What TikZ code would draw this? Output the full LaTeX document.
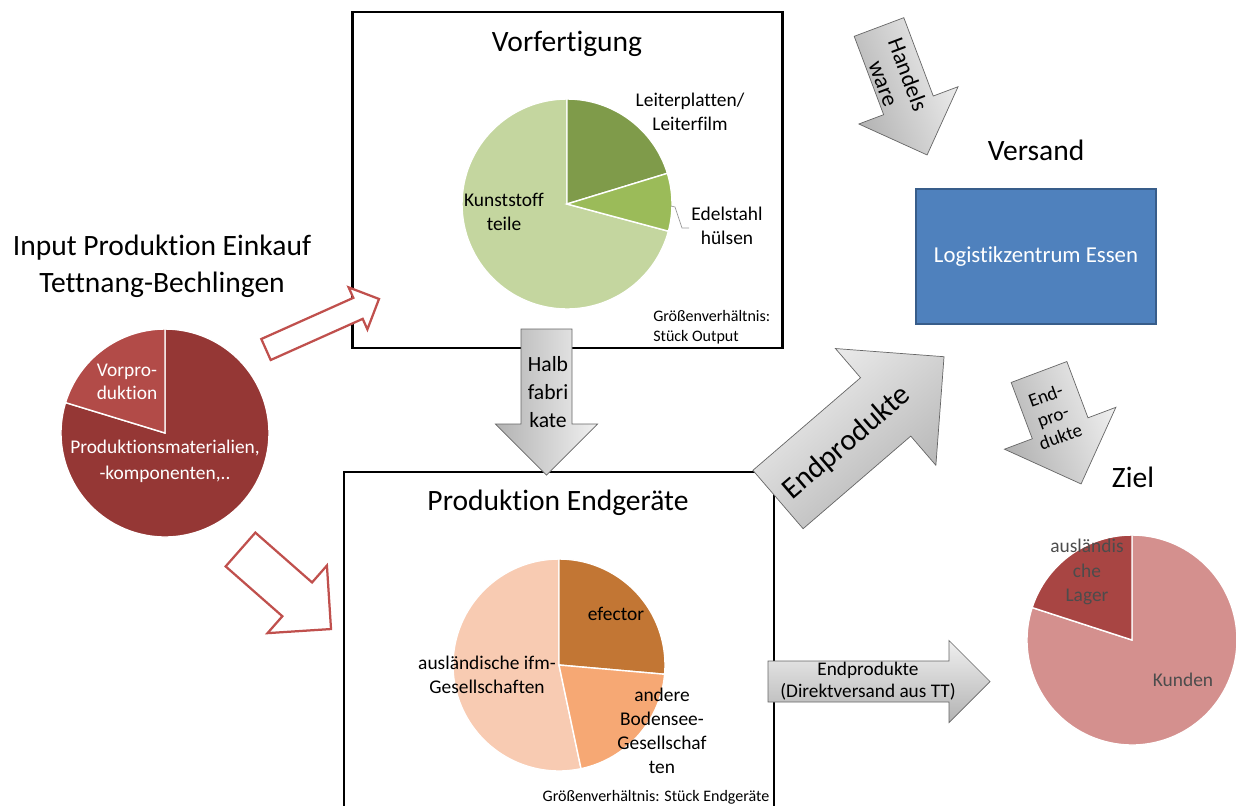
\documentclass[tikz,border=0pt]{standalone}
\usepackage{fontspec}
\setmainfont{Carlito}[Ligatures=NoCommon]
\usetikzlibrary{positioning}
\definecolor{InRed}{HTML}{953735}
\definecolor{InRedLight}{HTML}{B24B48}
\definecolor{ArrowRed}{HTML}{C0504D}
\definecolor{GreenDark}{HTML}{7F9B4A}
\definecolor{GreenMid}{HTML}{9BBB59}
\definecolor{GreenLight}{HTML}{C4D69F}
\definecolor{OrangeDark}{HTML}{C27634}
\definecolor{OrangeMid}{HTML}{F6A874}
\definecolor{OrangeLight}{HTML}{F8CBB2}
\definecolor{ZielRed}{HTML}{A84543}
\definecolor{ZielPink}{HTML}{D4908E}
\definecolor{LogBlue}{HTML}{4F81BD}
\definecolor{LogBlueDark}{HTML}{385D8A}

\begin{document}
\begin{tikzpicture}[x=0.025cm, y=0.025cm, on grid,
  headline/.style={font=\fontsize{21}{26}\selectfont, align=center, inner sep=0pt},
  lbl/.style={font=\fontsize{13.8}{17}\selectfont, align=center, inner sep=0pt},
  note/.style={font=\fontsize{11.4}{14}\selectfont, align=left, inner sep=0pt},
  boxframe/.style={draw, line width=1.8pt, minimum width=10.75cm},
  slice/.style={draw=white, line width=1pt},
  grayarrow/.style={draw=black!60, line width=0.5pt, top color=black!6, bottom color=black!30},
  redarrow/.style={draw=ArrowRed, line width=1.6pt, fill=white},
  pics/blockarrow/.style 2 args={code={
    \path[pic actions] (0,-#2/2) -- ({#1-#2},-#2/2) -- ({#1-#2},-#2) -- (#1,0)
      -- ({#1-#2},#2) -- ({#1-#2},#2/2) -- (0,#2/2) -- cycle;
  }}]

\useasboundingbox (0,0) rectangle (1236,-805);
\clip (0,0) rectangle (1236,-805);

% frames
\node[boxframe, minimum height=8.4cm] (vorf) at (567.5,-180) {};
\node[boxframe, minimum height=8.95cm] (prod) at (559,-651) {};
\node[draw=LogBlueDark, line width=1.2pt, fill=LogBlue, text=white,
  minimum width=6cm, minimum height=3.375cm, font=\fontsize{16.2}{19}\selectfont] (logistik) at (1036,-256.5) {Logistikzentrum Essen};

\node[headline] (vorftitle) at (567,-44) {Vorfertigung};
\node[headline] (prodtitle) at (558,-503) {Produktion Endger\"ate};
\node[headline, above=2.66cm of logistik] (versand) {Versand};
\node[headline] (input) at (162,-266) {Input Produktion Einkauf\\Tettnang-Bechlingen};

% Input pie
\coordinate (inpie) at (165,-433);
\fill[InRed, slice] (inpie) -- ++(163:104) arc (163:450:104) -- cycle;
\fill[InRedLight, slice] (inpie) -- ++(90:104) arc (90:163:104) -- cycle;
\node[lbl, text=white, font=\fontsize{13.8}{16.4}\selectfont] (vorprod) at (127,-382) {Vorpro-\\duktion};
\node[lbl, text=white, font=\fontsize{13.8}{18.5}\selectfont] (prodmat) at (165,-461) {Produktionsmaterialien,\\-komponenten,..};

% Vorfertigung pie
\coordinate (vorpie) at (567,-204);
\fill[GreenLight, slice] (vorpie) -- ++(90:105) arc (90:345:105) -- cycle;
\fill[GreenDark, slice] (vorpie) -- ++(17:105) arc (17:90:105) -- cycle;
\fill[GreenMid, slice] (vorpie) -- ++(-15:105) arc (-15:17:105) -- cycle;
\node[lbl] (leiter) at (690,-112) {Leiterplatten/\\Leiterfilm};
\node[lbl] (edel) at (727,-226) {Edelstahl\\h\"ulsen};
\node[lbl] (kunst) at (504,-212) {Kunststoff\\teile};
\draw[black!40, line width=0.5pt] (671,-206) -- (675,-207) -- (682,-228) -- (689,-228);
\node[note, anchor=west] (vornote) at (653,-327) {Gr\"o\ss enverh\"altnis:\\St\"uck Output};

% Produktion pie
\coordinate (prodpie) at (559,-665);
\fill[OrangeLight, slice] (prodpie) -- ++(90:106) arc (90:282:106) -- cycle;
\fill[OrangeDark, slice] (prodpie) -- ++(-5:106) arc (-5:90:106) -- cycle;
\fill[OrangeMid, slice] (prodpie) -- ++(-78:106) arc (-78:-5:106) -- cycle;
\node[lbl] (efector) at (616,-614) {efector};
\node[lbl] (ausl) at (487,-675) {ausl\"andische ifm-\\Gesellschaften};
\node[lbl, font=\fontsize{13.8}{17.2}\selectfont] (andere) at (662,-731) {andere\\Bodensee-\\Gesellschaf\\ten};
\node[note] (prodnote) at (656,-797) {Gr\"o\ss enverh\"altnis: St\"uck Endger\"ate};

% Ziel pie
\coordinate (zielpie) at (1132,-640);
\fill[ZielPink, slice] (zielpie) -- ++(162:105) arc (162:450:105) -- cycle;
\fill[ZielRed, slice] (zielpie) -- ++(90:105) arc (90:162:105) -- cycle;
\node[headline] (ziel) at (1133,-477) {Ziel};
\node[lbl, text=black!70, font=\fontsize{13.8}{17.2}\selectfont] (lager) at (1087,-572) {ausl\"andis\\che\\Lager};
\node[lbl, text=black!70] (kunden) at (1183,-680) {Kunden};

% red arrows
\coordinate (uptail) at (266,-349.5);
\coordinate (downtail) at (240.5,-549.5);
\pic[redarrow, rotate=24.1] at (uptail) {blockarrow={123.8}{23}};
\pic[redarrow, rotate=-41.3] at (downtail) {blockarrow={120.5}{45}};

% gray arrows
\coordinate (halbtail) at (546.5,-329);
\coordinate (handeltail) at (879,-27);
\coordinate (endtail) at (778,-499.5);
\coordinate (endsmalltail) at (1039,-372);
\coordinate (direkttail) at (768,-681.5);
\pic[grayarrow, shading angle=-90, rotate=-90] at (halbtail) {blockarrow={146}{51}};
\pic[grayarrow, shading angle=-69.4, rotate=-69.4] at (handeltail) {blockarrow={136.7}{53}};
\pic[grayarrow, shading angle=40.7, rotate=40.7] at (endtail) {blockarrow={219}{77}};
\pic[grayarrow, shading angle=-69.4, rotate=-69.4] at (endsmalltail) {blockarrow={119.6}{59.5}};
\pic[grayarrow] at (direkttail) {blockarrow={222}{41}};

\node[lbl, font=\fontsize{15.4}{19.6}\selectfont] (halb) at (548,-392) {Halb\\fabri\\kate};
\node[lbl, font=\fontsize{16.4}{18.5}\selectfont, rotate=-69.4] (handel) at (896,-79) {Handels\\ware};
\node[lbl, font=\fontsize{21.4}{26}\selectfont, rotate=40.7] (endbig) at (847,-443) {Endprodukte};
\node[lbl, font=\fontsize{13.5}{15.5}\selectfont, rotate=20] (endsmall) at (1053,-416) {End-\\pro-\\dukte};
\node[lbl, font=\fontsize{13.7}{15.6}\selectfont] (direkt) at (868,-681) {Endprodukte\\(Direktversand aus TT)};

\end{tikzpicture}
\end{document}
